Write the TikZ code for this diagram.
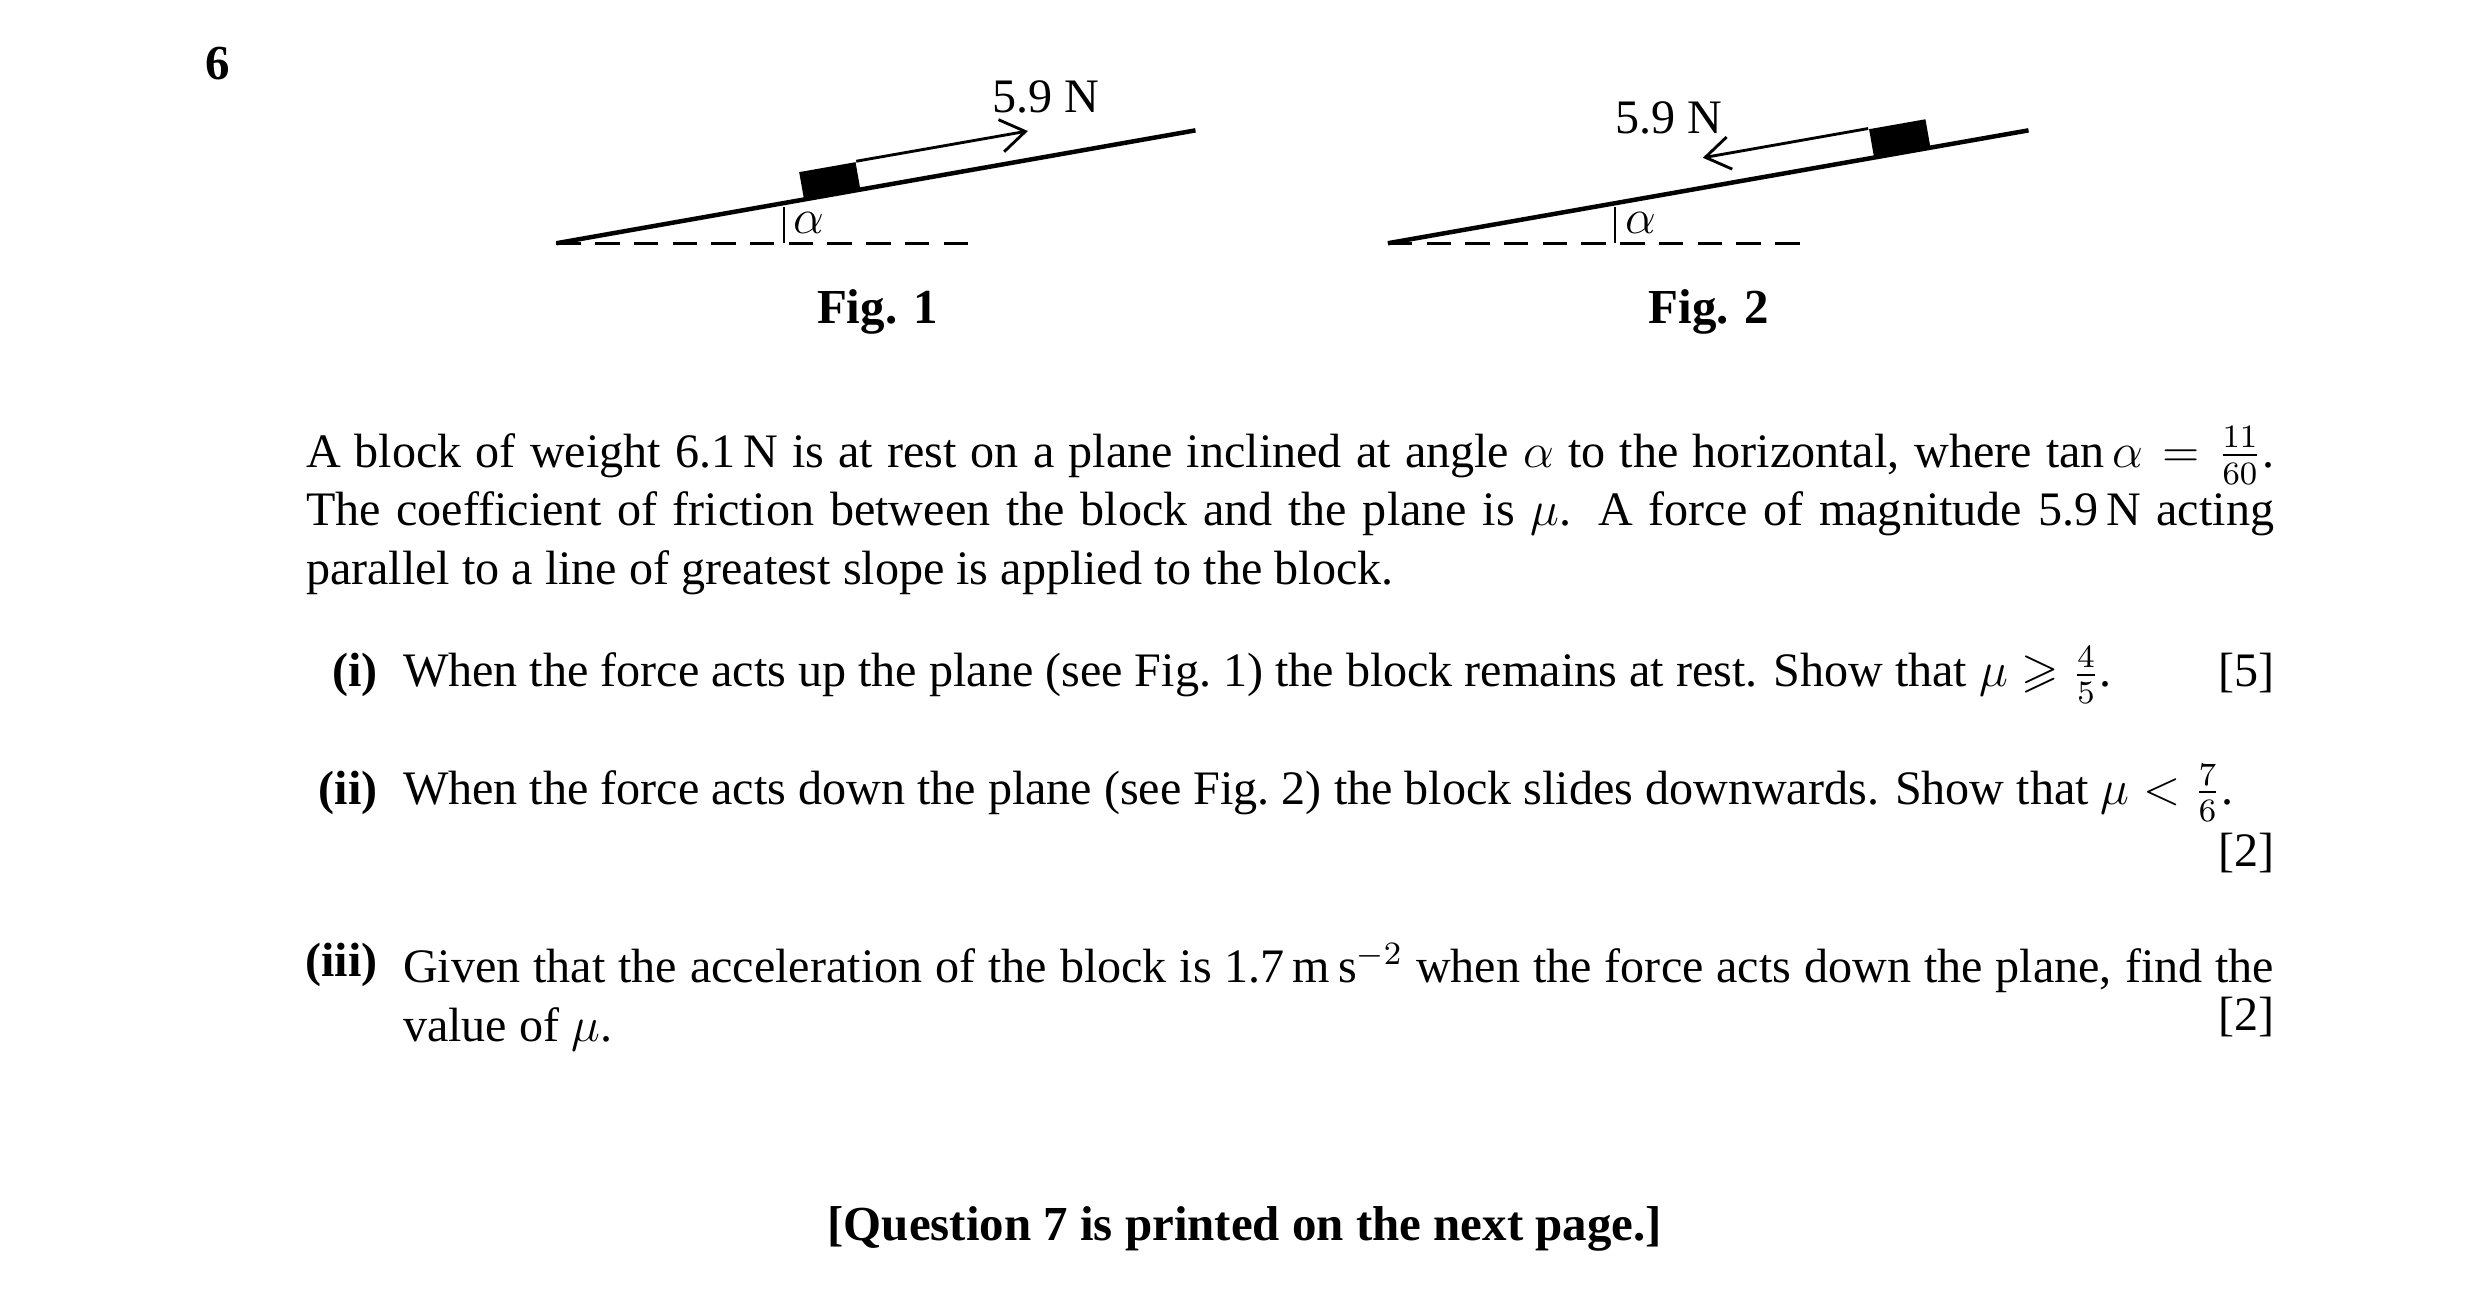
\documentclass[tikz,border=0pt]{standalone}
\usepackage{amssymb}
\usepackage{fontspec}
\setmainfont{Liberation Serif}
\usetikzlibrary{arrows.meta,calc}
\begin{document}
\begin{tikzpicture}[x=0.39pt,y=-0.39pt,font=\fontsize{11.8}{14.4}\selectfont]
  \tikzstyle{slope} = [line width=1.1pt]
  \tikzstyle{level} = [line width=0.8pt, dash pattern=on 6pt off 3.5pt]
  \tikzstyle{block} = [fill=black, minimum width=36*0.39pt, minimum height=18*0.39pt, inner sep=0pt, rotate=10]
  \tikzstyle{force} = [-{Straight Barb[length=6pt,width=8pt]}, line width=0.7pt]
  \tikzstyle{para} = [anchor=north west, inner sep=0pt, text width=1238*0.39pt, align=justify]
  \tikzstyle{part} = [inner sep=0pt, font=\bfseries\fontsize{11.8}{14}\selectfont]
  \useasboundingbox (0,0) rectangle (1560,818);
\node[font=\bfseries\fontsize{12}{14}\selectfont] (qno) at (137,40) {6};
% Fig. 1
\coordinate (b1) at (350,153);
\coordinate (t1) at (752,82);
\draw[slope] (b1) -- (t1);
\draw[level] (b1) -- (615,153);
\draw[line width=0.6pt] (493,153) -- (493,130);
\node (al1) at (509,140) {$\alpha$};
\node[block] (blk1) at (522,114) {};
\coordinate (h1) at ($(blk1.north east)+(108,-19)$);
\draw[force] (blk1.north east) -- (h1);
\node (f1) at (658,61) {5.9 N};
\node[font=\bfseries\fontsize{12}{14}\selectfont] (fig1) at (552,196) {Fig. 1};
% Fig. 2
\coordinate (b2) at (873,153);
\coordinate (t2) at (1276,82);
\draw[slope] (b2) -- (t2);
\draw[level] (b2) -- (1140,153);
\draw[line width=0.6pt] (1016,153) -- (1016,130);
\node (al2) at (1032,140) {$\alpha$};
\node[block] (blk2) at (1195,87) {};
\coordinate (h2) at ($(blk2.north west)+(-104,18.4)$);
\draw[force] (blk2.north west) -- (h2);
\node (f2) at (1050,74) {5.9 N};
\node[font=\bfseries\fontsize{12}{14}\selectfont] (fig2) at (1075,196) {Fig. 2};
% question text
\node[para] (stem) at (192,268) {A block of weight 6.1\,N is at rest on a plane inclined at angle $\alpha$ to the horizontal, where $\tan\alpha=\frac{11}{60}$.\linebreak The coefficient of friction between the block and the plane is $\mu$. A force of magnitude 5.9\,N acting\linebreak parallel to a line of greatest slope is applied to the block.};
\node[part, anchor=base east] (p1) at (238,432) {(i)};
\node[anchor=base west, inner sep=0pt] (q1) at (253,432) {When the force acts up the plane (see Fig.~1) the block remains at rest. Show that $\mu\geqslant\frac45$.};
\node[anchor=base east, inner sep=0pt] (m1) at (1431,432) {[5]};
\node[part, anchor=base east] (p2) at (238,506) {(ii)};
\node[anchor=base west, inner sep=0pt] (q2) at (253,506) {When the force acts down the plane (see Fig.~2) the block slides downwards. Show that $\mu<\frac76$.};
\node[anchor=base east, inner sep=0pt] (m2) at (1431,545) {[2]};
\node[part, anchor=north east] (p3) at (238,593) {(iii)};
\node[para, text width=1177*0.39pt] (q3) at (253,593) {Given that the acceleration of the block is 1.7\,m\,s$^{-2}$ when the force acts down the plane, find the\linebreak value of $\mu$.};
\node[anchor=base east, inner sep=0pt] (m3) at (1431,648) {[2]};
\node[font=\bfseries\fontsize{12}{14}\selectfont] (next) at (783,773) {[Question 7 is printed on the next page.]};
\end{tikzpicture}
\end{document}
